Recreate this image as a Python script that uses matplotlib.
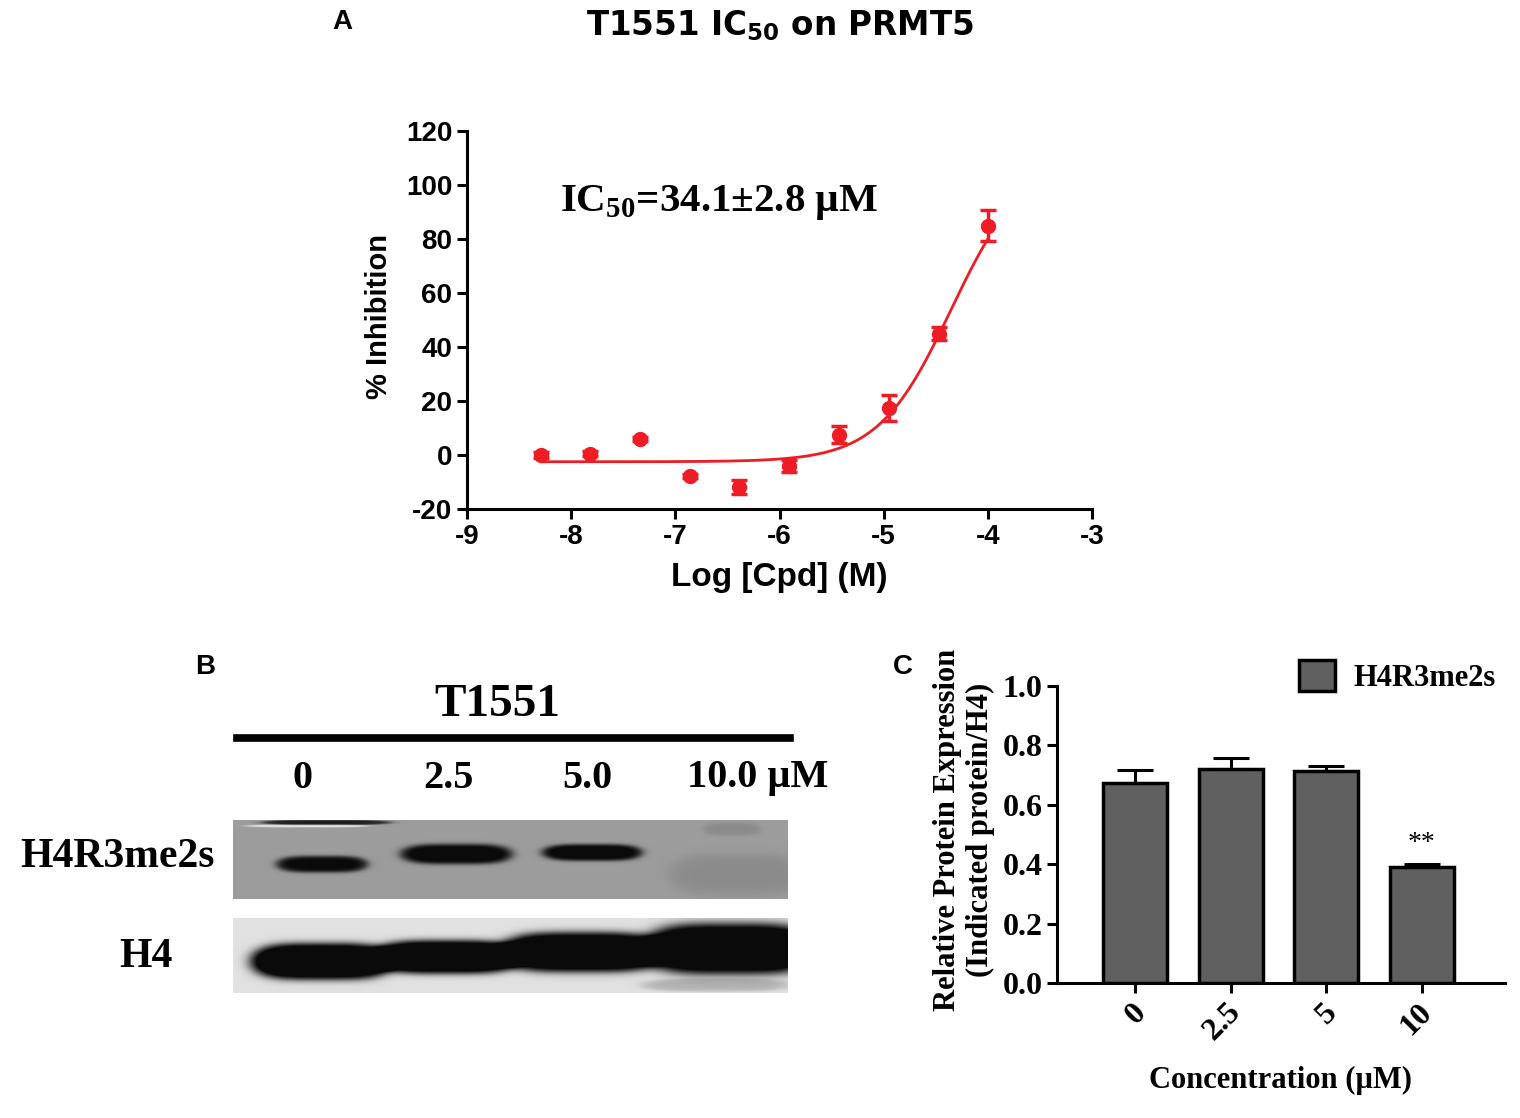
import numpy as np
import matplotlib.pyplot as plt
from matplotlib.lines import Line2D
from matplotlib.transforms import ScaledTranslation

plt.rcParams['font.family'] = ['Liberation Sans', 'DejaVu Sans']
plt.rcParams['font.weight'] = 'bold'
plt.rcParams['axes.labelweight'] = 'bold'
plt.rcParams['axes.unicode_minus'] = False

SERIF = ['Liberation Serif', 'DejaVu Serif']
RED = '#ee1c25'

# ---- panel A: dose response (log M, % inhibition, SEM)
log_conc = [-8.29, -7.82, -7.34, -6.86, -6.39, -5.91, -5.43, -4.95, -4.47, -4.00]
inhibition = [0.0, 0.5, 6.0, -7.7, -11.8, -4.0, 7.5, 17.5, 45.0, 85.0]
inhibition_err = [1.0, 1.0, 0.8, 0.8, 2.5, 2.2, 3.2, 4.8, 2.5, 5.8]

# four-parameter fit shown as the curve
fit_bottom = -2.5
fit_top = 110.0
fit_logic50 = -4.354
fit_hill = 1.24

# ---- panel B: western blot lanes and band signal
blot_lanes = ['0', '2.5', '5.0', '10.0 \u00b5M']
h4r3me2s_signal = [1.1, 1.2, 1.2, 0.12]
h4_signal = [1.5, 1.5, 1.5, 1.5]

# ---- panel C: densitometry
conc_labels = ['0', '2.5', '5', '10']
expression = [0.673, 0.722, 0.715, 0.390]
expression_err = [0.045, 0.035, 0.015, 0.010]

W, H = 1520, 1118


def fx(x):
    return x / W


def fy(y):
    return 1 - y / H


def blot_image(nx, ny, bg, bands, signal, smudges=()):
    # bands: (x0, x1, y centre, half thickness) in blot fractions, drawn as rounded blobs
    X, Y = np.meshgrid(np.linspace(0, 1, nx), np.linspace(0, 1, ny))
    dark = np.zeros((ny, nx))
    items = [b + (s,) for b, s in zip(bands, signal)] + list(smudges)
    for x0, x1, cy, hh, s in items:
        cx, hw = (x0 + x1) / 2, (x1 - x0) / 2
        d = np.abs((X - cx) / hw) ** 4 + np.abs((Y - cy) / hh) ** 2
        dark += s / (1 + np.exp((d - 1) / 0.3))
    dark = np.clip(dark, -1, 1)
    return np.clip(bg - (bg - 0.04) * dark, 0, 1)


fig = plt.figure(figsize=(15.2, 11.18), dpi=100)

# ================= A =================
axA = fig.add_axes([fx(467), fy(509), fx(1092) - fx(467), fy(131) - fy(509)])
axA.errorbar(log_conc, inhibition, yerr=inhibition_err, fmt='o', color=RED, ms=10,
             elinewidth=2.5, capsize=5.5, capthick=2.5, zorder=3)
xs = np.linspace(log_conc[0], log_conc[-1], 300)
fit = fit_bottom + (fit_top - fit_bottom) / (1 + 10 ** ((fit_logic50 - xs) * fit_hill))
axA.plot(xs, fit, color=RED, lw=2)
axA.set_xlim(-9, -3)
axA.set_ylim(-20, 120)
axA.set_xticks(range(-9, -2))
axA.set_yticks(range(-20, 121, 20))
for s in ['top', 'right']:
    axA.spines[s].set_visible(False)
for s in ['left', 'bottom']:
    axA.spines[s].set_linewidth(2.2)
axA.tick_params(direction='out', length=7, width=2.2, labelsize=20)
axA.set_ylabel('% Inhibition', fontsize=21)
axA.yaxis.set_label_coords(-0.118, 0.51)
axA.set_xlabel('Log [Cpd] (M)', fontsize=24)
axA.xaxis.set_label_coords(0.5, -0.14)
axA.patch.set_alpha(0)

fig.text(fx(780), fy(26), 'T1551 IC$_\\mathregular{50}$ on PRMT5', ha='center', va='center',
         fontsize=23.5, family=['DejaVu Sans'])
fig.text(fx(342), fy(22), 'A', ha='center', va='center', fontsize=20)
fig.text(fx(560), fy(203), 'IC$_\\mathregular{50}$=34.1\u00b12.8 \u00b5M', ha='left', va='center',
         fontsize=29.5, family=SERIF)

# ================= B =================
fig.text(fx(205), fy(667), 'B', ha='center', va='center', fontsize=20)
fig.text(fx(497), fy(705), 'T1551', ha='center', va='center', fontsize=34, family=SERIF)
fig.add_artist(Line2D([fx(237), fx(790)], [fy(738), fy(738)], color='black', lw=5.5))
for lab, xp in zip(blot_lanes, [302, 448, 587, 758]):
    fig.text(fx(xp), fy(778), lab, ha='center', va='center', fontsize=29, family=SERIF)
fig.text(fx(215), fy(857), 'H4R3me2s', ha='right', va='center', fontsize=30, family=SERIF)
fig.text(fx(146), fy(957), 'H4', ha='center', va='center', fontsize=30, family=SERIF)

axB1 = fig.add_axes([fx(233), fy(899), (788 - 233) / W, (899 - 820) / H])
img1 = blot_image(555, 79, 0.61,
                  [(0.08, 0.24, 0.56, 0.10), (0.305, 0.50, 0.43, 0.12),
                   (0.56, 0.735, 0.41, 0.10), (0.79, 1.03, 0.69, 0.25)],
                  h4r3me2s_signal,
                  smudges=[(0.054, 0.28, 0.025, 0.03, 0.9), (0.025, 0.24, 0.07, 0.018, -0.5),
                           (0.85, 0.95, 0.11, 0.08, 0.12)])
axB1.imshow(img1, cmap='gray', vmin=0, vmax=1, aspect='auto', extent=(0, 1, 1, 0))
axB1.axis('off')

axB2 = fig.add_axes([fx(233), fy(993), (788 - 233) / W, (993 - 918) / H])
img2 = blot_image(555, 75, 0.88,
                  [(0.035, 0.285, 0.58, 0.23), (0.255, 0.515, 0.52, 0.21),
                   (0.485, 0.775, 0.455, 0.25), (0.745, 1.05, 0.41, 0.32)],
                  h4_signal,
                  smudges=[(0.74, 1.0, 0.90, 0.08, 0.22)])
axB2.imshow(img2, cmap='gray', vmin=0, vmax=1, aspect='auto', extent=(0, 1, 1, 0))
axB2.axis('off')

# ================= C =================
axC = fig.add_axes([fx(1057), fy(983), (1505 - 1057) / W, (983 - 686) / H])
xpos = np.arange(len(expression))
axC.bar(xpos, expression, width=0.67, color='#606060', edgecolor='black', lw=2.5,
        label='H4R3me2s', zorder=2)
axC.errorbar(xpos, expression, yerr=[np.zeros(len(expression)), expression_err], fmt='none',
             ecolor='black', elinewidth=2.2, capsize=13, capthick=2.2, zorder=3)
axC.set_xlim(-0.82, 3.87)
axC.set_ylim(0, 1.0)
axC.set_yticks(np.arange(0, 1.01, 0.2))
axC.set_yticklabels(['%.1f' % v for v in np.arange(0, 1.01, 0.2)])
axC.set_xticks(xpos)
axC.set_xticklabels(conc_labels, rotation=45, ha='right', va='center', rotation_mode='anchor')
for s in ['top', 'right']:
    axC.spines[s].set_visible(False)
for s in ['left', 'bottom']:
    axC.spines[s].set_linewidth(2.2)
axC.tick_params(direction='out', length=7, width=2.2, labelsize=23)
axC.tick_params(axis='x', pad=11)
shift = ScaledTranslation(6 / 100, 0, fig.dpi_scale_trans)
for lbl in axC.get_xticklabels():
    lbl.set_transform(lbl.get_transform() + shift)
for lbl in axC.get_xticklabels() + axC.get_yticklabels():
    lbl.set_family(SERIF)
axC.text(3, 0.47, '**', ha='center', va='center', fontsize=20, family=SERIF, fontweight='normal')
axC.set_ylabel('Relative Protein Expression\n(Indicated protein/H4)', fontsize=22, family=SERIF,
               linespacing=1.2)
axC.yaxis.set_label_coords(-0.138, 0.515)
axC.set_xlabel('Concentration (\u00b5M)', fontsize=22, family=SERIF)
axC.xaxis.set_label_coords(0.498, -0.28)
axC.legend(loc='upper right', bbox_to_anchor=(fx(1496), fy(660)), bbox_transform=fig.transFigure,
           frameon=False, prop={'family': SERIF, 'size': 22, 'weight': 'bold'},
           handlelength=1.2, handleheight=1.2, handletextpad=0.6, borderaxespad=0, borderpad=0)
fig.text(fx(903), fy(667), 'C', ha='center', va='center', fontsize=20)

fig.savefig('out.png', dpi=100)
